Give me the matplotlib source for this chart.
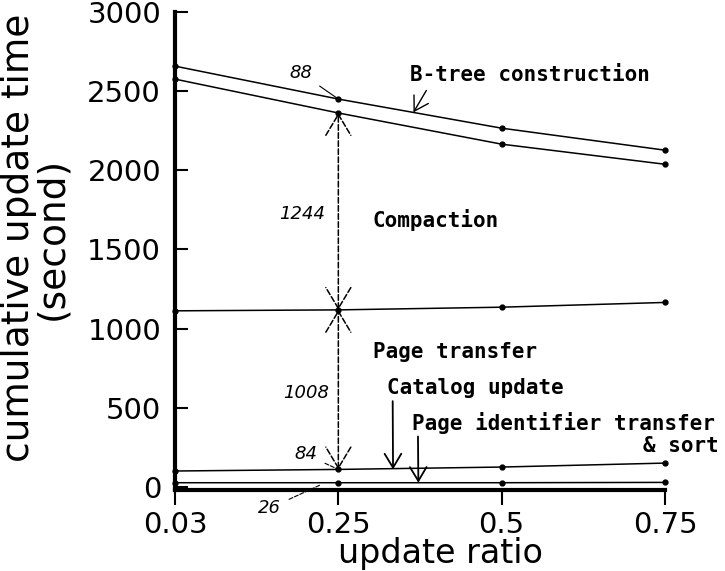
import numpy as np
import matplotlib
matplotlib.use('Agg')
import matplotlib.pyplot as plt

# cumulative update time (second)
x_labels = ['0.03', '0.25', '0.5', '0.75']
page_id_sort = [26, 26, 26, 28]
catalog_cum = [100, 110, 125, 150]
page_transfer_cum = [1112, 1118, 1135, 1165]
compaction_cum = [2576, 2362, 2165, 2038]
btree_cum = [2658, 2450, 2266, 2127]

lines = [page_id_sort, catalog_cum, page_transfer_cum, compaction_cum, btree_cum]

xpos = np.arange(len(x_labels))

fig = plt.figure(figsize=(7.25, 5.71), dpi=100)
ax = fig.add_axes([175/725, 1-490/571, 490/725, 478/571])

for ys in lines:
    ax.plot(xpos, ys, color='black', linewidth=1.1, marker='o', markersize=3.5, clip_on=False)

ax.set_xlim(0, 3)
ax.set_ylim(-20, 3000)
ax.set_xticks(xpos)
ax.set_xticklabels(x_labels)
ax.set_yticks([0, 500, 1000, 1500, 2000, 2500, 3000])
ax.tick_params(axis='x', direction='out', length=11, width=1.5, labelsize=21, pad=4)
ax.tick_params(axis='y', direction='in', length=9, width=1.5, labelsize=21, pad=10)
for s in ['top', 'right']:
    ax.spines[s].set_visible(False)
for s in ['left', 'bottom']:
    ax.spines[s].set_linewidth(3)

fig.text(36/725, 1-238/571, 'cumulative update time\n(second)', rotation=90,
         ha='center', va='center', multialignment='center', fontsize=27, linespacing=0.9)
fig.text(440/725, 1-553/571, 'update ratio', ha='center', va='center', fontsize=24)

# dimension arrows at 0.25
dim = dict(arrowstyle='<->,head_length=0.5,head_width=0.3', linestyle='--', linewidth=1.1,
           color='black', mutation_scale=30, shrinkA=0, shrinkB=0)
ax.annotate('', xy=(1, compaction_cum[1]), xytext=(1, page_transfer_cum[1]), arrowprops=dim)
ax.annotate('', xy=(1, page_transfer_cum[1]), xytext=(1, catalog_cum[1]), arrowprops=dim)

num_font = dict(fontsize=13, style='italic', ha='center', va='center')
ax.annotate('88', xy=(1, btree_cum[1]), xytext=(0.77, 2615), **num_font,
            arrowprops=dict(arrowstyle='-', linewidth=0.8, color='black', shrinkA=4, shrinkB=0))
ax.text(0.78, 1725, '1244', **num_font)
ax.text(0.80, 590, '1008', **num_font)
ax.annotate('84', xy=(1, catalog_cum[1]), xytext=(0.80, 205), **num_font,
            arrowprops=dict(arrowstyle='-', linestyle='--', linewidth=0.8, color='black', shrinkA=4, shrinkB=0))
ax.annotate('26', xy=(0.89, 12), xytext=(0.58, -135), **num_font, annotation_clip=False,
            arrowprops=dict(arrowstyle='-', linestyle='--', linewidth=0.8, color='black', shrinkA=4, shrinkB=0))

lab = dict(fontsize=15, fontweight='bold', family='DejaVu Sans Mono', va='center', ha='left')
head = '->,head_length=0.5,head_width=0.3'
ax.annotate('B-tree construction', xy=(1.46, 2366), xytext=(1.44, 2600), **lab,
            arrowprops=dict(arrowstyle=head, linewidth=1, color='black', mutation_scale=20,
                            relpos=(0.08, 0), shrinkA=2, shrinkB=0))
ax.text(1.21, 1685, 'Compaction', **lab)
ax.text(1.21, 850, 'Page transfer', **lab)
ax.annotate('Catalog update', xy=(1.335, 110), xytext=(1.30, 622), **lab,
            arrowprops=dict(arrowstyle=head, linewidth=1.3, color='black', mutation_scale=20,
                            relpos=(0.03, 0.3), shrinkA=0, shrinkB=0))
ax.annotate('Page identifier transfer', xy=(1.49, 26), xytext=(1.45, 405), **lab,
            annotation_clip=False,
            arrowprops=dict(arrowstyle=head, linewidth=1.3, color='black', mutation_scale=20,
                            relpos=(0.02, 0.3), shrinkA=0, shrinkB=0))
ax.text(3.33, 260, '& sort', fontsize=15, fontweight='bold', family='DejaVu Sans Mono',
        va='center', ha='right', clip_on=False)

fig.savefig('out.png', dpi=100)
